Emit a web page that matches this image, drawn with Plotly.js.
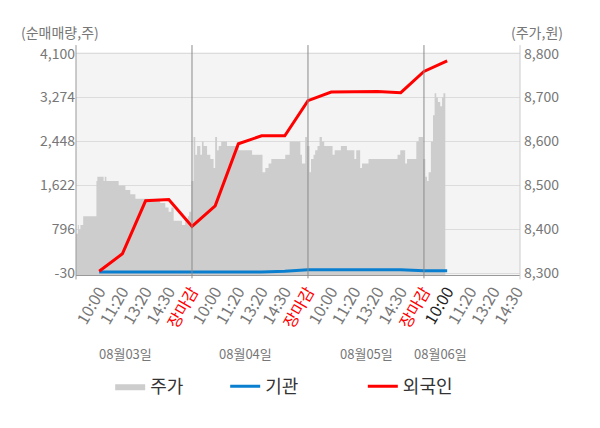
<!DOCTYPE html>
<html>
<head>
<meta charset="utf-8">
<script src="https://cdn.plot.ly/plotly-3.0.1.min.js"></script>
<style>
  html, body { margin: 0; padding: 0; background: #fff; }
  #chart { width: 600px; height: 428px; }
</style>
</head>
<body>
<div id="chart"></div>
<script>
// x is measured in tick slots: one slot per tick label, 5 slots per trading day
const tickLabels = [
    '10:00', '11:20', '13:20', '14:30', '장마감',
    '10:00', '11:20', '13:20', '14:30', '장마감',
    '10:00', '11:20', '13:20', '14:30', '장마감',
    '10:00', '11:20', '13:20', '14:30'
];
const currentTick = 16; // 08/06 10:00, drawn darker

// cumulative net buying (shares), one value per tick
const flowSlots   = [1, 2, 3, 4, 5, 6, 7, 8, 9, 10, 11, 12, 13, 14, 15, 16];
const foreign     = [10, 338, 1334, 1359, 854, 1241, 2405, 2555, 2555, 3216, 3377, 3377, 3390, 3366, 3764, 3964];
const institution = [-5, -5, -5, -5, -5, -5, -5, -5, 10, 40, 40, 40, 40, 40, 20, 20];

// share price (won), step changes
const priceSlots = [
    0, 0.08, 0.12, 0.19, 0.31, 0.88, 0.92, 1.19, 1.24, 1.31, 1.84, 2.13, 2.34, 2.56,
    3.63, 3.85, 3.99, 4.11, 4.21, 4.57, 4.71, 4.82, 4.88,
    4.97, 5.07, 5.14, 5.22, 5.36, 5.43, 5.50, 5.65, 5.79, 5.93, 6.00, 6.08, 6.15, 6.26,
    6.51, 7.01, 7.59, 8.04, 8.16, 8.30, 8.42, 9.02, 9.21, 9.67, 9.74, 9.88,
    9.96, 10.07, 10.13, 10.24, 10.31, 10.41, 10.50, 10.60, 10.70, 11.06, 11.15, 11.42,
    11.68, 12.00, 12.08, 12.25, 12.33, 12.61, 13.86, 13.98, 14.19, 14.27, 14.67, 14.77,
    14.96, 15.06, 15.13, 15.20, 15.30, 15.39, 15.46, 15.53, 15.60, 15.70, 15.78, 15.84, 15.92
];
const price = [
    8390, 8410, 8400, 8410, 8430, 8510, 8520, 8510, 8520, 8510, 8500, 8490, 8480, 8470,
    8460, 8450, 8440, 8450, 8420, 8410, 8420, 8430, 8440,
    8510, 8610, 8570, 8590, 8570, 8600, 8590, 8570, 8560, 8540, 8610, 8580, 8590, 8600,
    8590, 8580, 8570, 8530, 8540, 8550, 8560, 8570, 8600, 8570, 8550, 8610,
    8590, 8530, 8560, 8570, 8580, 8590, 8610, 8600, 8590, 8570, 8580, 8590,
    8580, 8560, 8580, 8540, 8550, 8560, 8570, 8580, 8550, 8560, 8600, 8610,
    8560, 8520, 8510, 8530, 8600, 8660, 8710, 8700, 8690, 8680, 8700, 8710, 8710
];

const dayNames = ['08월03일', '08월04일', '08월05일', '08월06일'];
const dayNameSlots = [2.13, 7.3, 12.51, 15.7];
const dayBreaks = [5, 10, 15];

const netTicks = [-30, 796, 1622, 2448, 3274, 4100];
const priceTicks = [8300, 8400, 8500, 8600, 8700, 8800];

const FONT = '"Noto Sans CJK KR", "Noto Sans", sans-serif';
const GREY = '#777';

var tickText = tickLabels.map((t, i) => {
    if (t === '장마감') return '<span style="color:#ff0000">' + t + '</span>';
    if (i + 1 === currentTick) return '<span style="color:#222">' + t + '</span>';
    return t;
});

// price sits on the main (right) axis so the flow lines on the overlay are drawn above it
var traces = [
    {
        x: priceSlots, y: price, yaxis: 'y',
        type: 'scatter', mode: 'lines', line: { shape: 'hv', width: 0, color: '#cdcdcd' },
        fill: 'tozeroy', fillcolor: '#cdcdcd',
        name: '주가', legend: 'legend'
    },
    {
        x: flowSlots, y: institution, yaxis: 'y2',
        type: 'scatter', mode: 'lines', line: { color: '#0a7fcf', width: 3 },
        name: '기관', legend: 'legend2'
    },
    {
        x: flowSlots, y: foreign, yaxis: 'y2',
        type: 'scatter', mode: 'lines', line: { color: '#ff0000', width: 3 },
        name: '외국인', legend: 'legend3'
    }
];

var shapes = dayBreaks.map(d => ({
    type: 'line', xref: 'x', yref: 'paper', x0: d, x1: d, y0: -0.015, y1: 1.031,
    line: { color: '#8a8a8a', width: 1 }
}));
shapes.push({ type: 'line', xref: 'paper', yref: 'paper', x0: 0, x1: 0, y0: -0.02, y1: 1.031,
    line: { color: '#999', width: 1 } });
shapes.push({ type: 'line', xref: 'paper', yref: 'paper', x0: 1, x1: 1, y0: -0.02, y1: 1.031,
    line: { color: '#ccc', width: 1 } });

var annotations = dayNames.map((d, i) => ({
    text: d, x: dayNameSlots[i], xref: 'x', xanchor: 'center',
    y: -0.35, yref: 'paper', yanchor: 'middle',
    showarrow: false, font: { size: 13, color: GREY }
}));
annotations.push({ text: '(순매매량,주)', x: -0.036, xref: 'paper', xanchor: 'center',
    y: 1.09, yref: 'paper', yanchor: 'middle',
    showarrow: false, font: { size: 14, color: GREY } });
annotations.push({ text: '(주가,원)', x: 1.038, xref: 'paper', xanchor: 'center',
    y: 1.09, yref: 'paper', yanchor: 'middle',
    showarrow: false, font: { size: 14, color: GREY } });

function legendAt(x) {
    return { x: x, xanchor: 'left', y: -0.5, yanchor: 'middle', orientation: 'h',
        bgcolor: 'rgba(0,0,0,0)', font: { size: 18, color: '#333' } };
}

var layout = {
    width: 600, height: 428,
    margin: { l: 76, r: 80, t: 52, b: 153 },
    paper_bgcolor: '#fff',
    plot_bgcolor: '#f4f4f4',
    font: { family: FONT, size: 14, color: GREY },
    showlegend: true,
    legend: legendAt(0.077),
    legend2: legendAt(0.336),
    legend3: legendAt(0.646),
    xaxis: {
        range: [0, 19.14],
        tickmode: 'array',
        tickvals: tickLabels.map((_, i) => i + 1),
        ticktext: tickText,
        tickangle: -60,
        tickfont: { size: 16, color: GREY },
        showgrid: false, zeroline: false,
        showline: true, linecolor: '#999', linewidth: 1,
        fixedrange: true
    },
    yaxis: {
        side: 'right',
        range: [8296.37, 8803.63],
        tickmode: 'array',
        tickvals: priceTicks,
        ticktext: priceTicks.map(v => v.toLocaleString('en-US')),
        tickfont: { size: 14, color: GREY },
        ticklabelstandoff: 3,
        showgrid: true, gridcolor: '#dcdcdc', gridwidth: 1,
        zeroline: false, showline: false,
        fixedrange: true
    },
    yaxis2: {
        overlaying: 'y', side: 'left',
        range: [-60, 4130],
        tickmode: 'array',
        tickvals: netTicks,
        ticktext: netTicks.map(v => v.toLocaleString('en-US')),
        tickfont: { size: 14, color: GREY },
        showgrid: false, zeroline: false, showline: false,
        fixedrange: true
    },
    shapes: shapes,
    annotations: annotations
};

Plotly.newPlot('chart', traces, layout, { displayModeBar: false, staticPlot: true });
</script>
</body>
</html>
